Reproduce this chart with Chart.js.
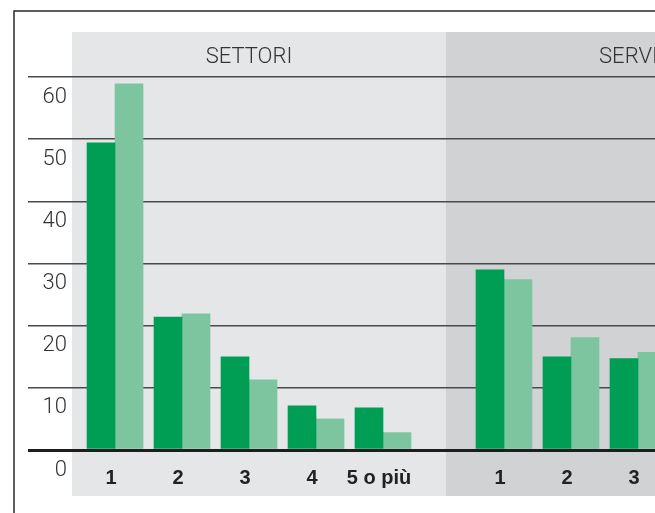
<!DOCTYPE html>
<html>
<head>
<meta charset="utf-8">
<script src="https://cdn.jsdelivr.net/npm/chart.js@4/dist/chart.umd.min.js"></script>
<style>
  html, body { margin: 0; padding: 0; background: #ffffff; }
  #wrap { position: relative; width: 655px; height: 513px; overflow: hidden; }
</style>
</head>
<body>
<div id="wrap"><canvas id="c"></canvas></div>
<script>
// Group headings and category labels
const groupNames = ['SETTORI', 'SERVIZI'];
const settoriLabels = ['1', '2', '3', '4', '5 o più'];
const serviziLabels = ['1', '2', '3'];

// Percentages per category (dark series, light series)
const settoriDark  = [49.4, 21.4, 15.0, 7.1, 6.8];
const settoriLight = [58.9, 21.9, 11.3, 5.0, 2.8];
const serviziDark  = [29.0, 15.0, 14.7];
const serviziLight = [27.4, 18.1, 15.7];

// Value axis
const yTicks = [0, 10, 20, 30, 40, 50, 60];

// ---- layout helpers (category units along a linear x axis) ----
const SERVIZI_START = settoriLabels.length - 1 + 1.806;
const settoriPos = settoriLabels.map((_, i) => i);
const serviziPos = serviziLabels.map((_, i) => SERVIZI_START + i);
const allPos = settoriPos.concat(serviziPos);
const allLabels = settoriLabels.concat(serviziLabels);
const groupCenters = [
  (settoriLabels.length - 1) / 2,
  SERVIZI_START + 2
];
const panelEdges = [[-0.642, 4.94], [4.94, 12]];
const panelColors = ['#e5e6e8', '#d1d2d4'];

const toPoints = (pos, vals) => vals.map((v, i) => ({ x: pos[i], y: v }));
const darkPoints = toPoints(settoriPos, settoriDark).concat(toPoints(serviziPos, serviziDark));
const lightPoints = toPoints(settoriPos, settoriLight).concat(toPoints(serviziPos, serviziLight));

// Background panels, headings and frame
const backdrop = {
  id: 'backdrop',
  beforeDraw(chart) {
    const { ctx, chartArea } = chart;
    const xs = chart.scales.x;
    const top = chartArea.top - 45;
    const bottom = chartArea.bottom + 46;
    ctx.save();
    panelEdges.forEach((e, i) => {
      const l = Math.max(xs.getPixelForValue(e[0]), chartArea.left);
      const r = Math.min(xs.getPixelForValue(e[1]), chart.width);
      ctx.fillStyle = panelColors[i];
      ctx.fillRect(l, top, r - l, bottom - top);
    });
    ctx.fillStyle = '#333333';
    ctx.font = '300 22px Roboto, "Liberation Sans", sans-serif';
    ctx.textAlign = 'center';
    ctx.textBaseline = 'middle';
    groupNames.forEach((g, i) => {
      ctx.fillText(g, xs.getPixelForValue(groupCenters[i]), chartArea.top - 20);
    });
    // frame
    ctx.strokeStyle = '#2a2a2a';
    ctx.lineWidth = 1.5;
    ctx.beginPath();
    ctx.moveTo(14, chart.height);
    ctx.lineTo(14, 11);
    ctx.lineTo(chart.width, 11);
    ctx.stroke();
    ctx.restore();
  }
};

new Chart(document.getElementById('c'), {
  type: 'bar',
  data: {
    datasets: [
      { data: darkPoints, backgroundColor: '#009e55', barThickness: 28, borderWidth: 0 },
      { data: lightPoints, backgroundColor: '#7cc59f', barThickness: 28, borderWidth: 0 }
    ]
  },
  options: {
    responsive: true,
    maintainAspectRatio: false,
    animation: false,
    devicePixelRatio: 1,
    layout: { padding: { top: 77, left: 14, right: 0, bottom: 0 } },
    plugins: { legend: { display: false }, tooltip: { enabled: false } },
    scales: {
      x: {
        type: 'linear',
        offset: false,
        min: -0.642,
        max: 8.06,
        border: { display: false },
        grid: { display: false, drawTicks: false, offset: false },
        afterBuildTicks(scale) { scale.ticks = allPos.map(v => ({ value: v })); },
        afterFit(scale) {
          scale.height = 63;
          scale.paddingLeft = 0;
          scale.paddingRight = 0;
        },
        ticks: {
          autoSkip: false,
          maxRotation: 0,
          padding: 16,
          labelOffset: -4,
          color: '#222222',
          font: { family: '"Liberation Sans", Arial, sans-serif', size: 20, weight: 'bold' },
          callback: (v, i) => allLabels[i]
        }
      },
      y: {
        min: 0,
        max: 60,
        border: { display: false },
        afterBuildTicks(scale) { scale.ticks = yTicks.map(v => ({ value: v })); },
        afterFit(scale) { scale.width = 58; },
        grid: {
          drawTicks: true,
          tickLength: 44,
          color: ctx => ctx.tick && ctx.tick.value === 0 ? '#1e1e1e' : '#4a4a4a',
          lineWidth: ctx => ctx.tick && ctx.tick.value === 0 ? 3 : 1.4
        },
        ticks: {
          padding: -39,
          labelOffset: 20,
          color: '#333333',
          font: { family: 'Roboto, "Liberation Sans", sans-serif', size: 22, weight: '300' }
        }
      }
    }
  },
  plugins: [backdrop]
});
</script>
</body>
</html>
